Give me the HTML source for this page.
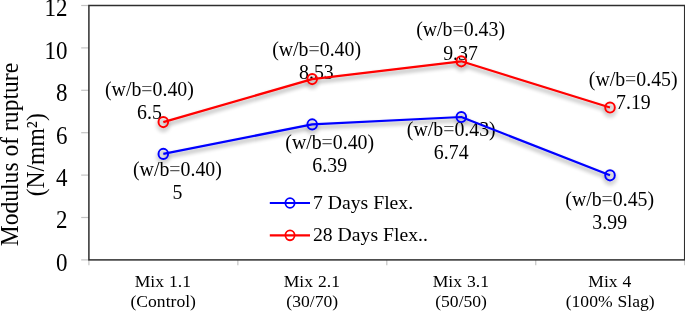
<!DOCTYPE html>
<html>
<head>
<meta charset="utf-8">
<title>Modulus of rupture</title>
<style>
html,body{margin:0;padding:0;background:#fff;}
body{width:685px;height:311px;overflow:hidden;}
svg{display:block;opacity:0.999;font-family:"Liberation Serif",serif;}
text{fill:#000;}
</style>
</head>
<body>
<svg width="685" height="311" viewBox="0 0 685 311">
<defs>
<filter id="sh" x="-10%" y="-20%" width="120%" height="150%">
<feGaussianBlur in="SourceAlpha" stdDeviation="2.2"/>
<feOffset dx="0.2" dy="3"/>
<feComponentTransfer><feFuncA type="linear" slope="0.42"/></feComponentTransfer>
<feMerge><feMergeNode/><feMergeNode in="SourceGraphic"/></feMerge>
</filter>
</defs>
<rect x="0" y="0" width="685" height="311" fill="#fff"/>
<g stroke="#c4c4c4" stroke-width="1.2">
<line x1="81.2" y1="259.90" x2="88.9" y2="259.90"/>
<line x1="81.2" y1="217.50" x2="88.9" y2="217.50"/>
<line x1="81.2" y1="175.10" x2="88.9" y2="175.10"/>
<line x1="81.2" y1="132.70" x2="88.9" y2="132.70"/>
<line x1="81.2" y1="90.30" x2="88.9" y2="90.30"/>
<line x1="81.2" y1="47.90" x2="88.9" y2="47.90"/>
<line x1="81.2" y1="5.50" x2="88.9" y2="5.50"/>
<line x1="88.90" y1="259.9" x2="88.90" y2="265.2"/>
<line x1="237.85" y1="259.9" x2="237.85" y2="265.2"/>
<line x1="386.80" y1="259.9" x2="386.80" y2="265.2"/>
<line x1="535.75" y1="259.9" x2="535.75" y2="265.2"/>
<line x1="684.70" y1="259.9" x2="684.70" y2="265.2"/>
</g>
<rect x="88.9" y="5.5" width="595.80" height="254.40" fill="none" stroke="#2e2e2e" stroke-width="1.5"/>
<g font-size="23" text-anchor="end">
<text transform="translate(67.6,270.70) scale(1,1.12)">0</text>
<text transform="translate(67.6,228.30) scale(1,1.12)">2</text>
<text transform="translate(67.6,185.90) scale(1,1.12)">4</text>
<text transform="translate(67.6,143.50) scale(1,1.12)">6</text>
<text transform="translate(67.6,101.10) scale(1,1.12)">8</text>
<text transform="translate(67.6,58.70) scale(1,1.12)">10</text>
<text transform="translate(67.6,16.30) scale(1,1.12)">12</text>
</g>
<g font-size="25.0" text-anchor="middle">
<text transform="translate(17.7,154.6) rotate(-90) scale(0.944,1)">Modulus of rupture</text>
<text transform="translate(44.0,154.8) rotate(-90) scale(0.944,1)">(N/mm²)</text>
</g>
<g font-size="19.85" text-anchor="middle">
<text transform="translate(149.4,95.6) scale(1,1.02)">(w/b<tspan fill="#5c5c5c">=</tspan>0.40)</text>
<text transform="translate(149.4,118.5) scale(1,1.02)">6.5</text>
<text transform="translate(177.4,175.8) scale(1,1.02)">(w/b<tspan fill="#5c5c5c">=</tspan>0.40)</text>
<text transform="translate(177.4,198.6) scale(1,1.02)">5</text>
<text transform="translate(316.6,56.0) scale(1,1.02)">(w/b<tspan fill="#5c5c5c">=</tspan>0.40)</text>
<text transform="translate(316.4,78.8) scale(1,1.02)">8.53</text>
<text transform="translate(329.7,149.4) scale(1,1.02)">(w/b<tspan fill="#5c5c5c">=</tspan>0.40)</text>
<text transform="translate(329.7,172.4) scale(1,1.02)">6.39</text>
<text transform="translate(460.6,36.3) scale(1,1.02)">(w/b<tspan fill="#5c5c5c">=</tspan>0.43)</text>
<text transform="translate(460.5,59.8) scale(1,1.02)">9.37</text>
<text transform="translate(451.3,135.7) scale(1,1.02)">(w/b<tspan fill="#5c5c5c">=</tspan>0.43)</text>
<text transform="translate(451.2,158.8) scale(1,1.02)">6.74</text>
<text transform="translate(633.2,86.0) scale(1,1.02)">(w/b<tspan fill="#5c5c5c">=</tspan>0.45)</text>
<text transform="translate(633.4,108.8) scale(1,1.02)">7.19</text>
<text transform="translate(609.7,206.1) scale(1,1.02)">(w/b<tspan fill="#5c5c5c">=</tspan>0.45)</text>
<text transform="translate(609.7,229.0) scale(1,1.02)">3.99</text>
</g>
<g filter="url(#sh)" fill="none" stroke-linejoin="round">
<polyline stroke="#0000ff" stroke-width="2.25" points="163.3,153.9 312.2,124.4 461.3,117.0 610.0,175.3"/>
<g stroke="#0000ff" stroke-width="1.95">
<ellipse cx="163.3" cy="153.9" rx="4.8" ry="5.1"/>
<ellipse cx="312.2" cy="124.4" rx="4.8" ry="5.1"/>
<ellipse cx="461.3" cy="117.0" rx="4.8" ry="5.1"/>
<ellipse cx="610.0" cy="175.3" rx="4.8" ry="5.1"/>
</g></g>
<g filter="url(#sh)" fill="none" stroke-linejoin="round">
<polyline stroke="#ff0000" stroke-width="2.25" points="163.3,122.1 312.2,79.1 461.3,61.3 610.0,107.5"/>
<g stroke="#ff0000" stroke-width="1.95">
<ellipse cx="163.3" cy="122.1" rx="4.8" ry="5.1"/>
<ellipse cx="312.2" cy="79.1" rx="4.8" ry="5.1"/>
<ellipse cx="461.3" cy="61.3" rx="4.8" ry="5.1"/>
<ellipse cx="610.0" cy="107.5" rx="4.8" ry="5.1"/>
</g></g>
<g fill="none" stroke-width="2.1">
<line x1="269.8" y1="203.0" x2="310" y2="203.0" stroke="#0000ff"/>
<ellipse cx="290.0" cy="203.0" rx="4.6" ry="4.9" stroke="#0000ff" stroke-width="1.8"/>
<line x1="269.8" y1="235.35" x2="310" y2="235.35" stroke="#ff0000"/>
<ellipse cx="290.0" cy="235.35" rx="4.6" ry="4.9" stroke="#ff0000" stroke-width="1.8"/>
</g>
<g font-size="19.7">
<text transform="translate(313.0,208.6) scale(1,0.98)">7 Days Flex.</text>
<text transform="translate(313.0,240.7) scale(1,0.98)">28 Days Flex..</text>
</g>
<g font-size="17.6" text-anchor="middle" word-spacing="0.6">
<text transform="translate(162.8,286.7) scale(1,0.955)">Mix 1.1</text>
<text transform="translate(163.2,306.9) scale(1,0.955)">(Control)</text>
<text transform="translate(311.8,286.7) scale(1,0.955)">Mix 2.1</text>
<text transform="translate(312.2,306.9) scale(1,0.955)">(30/70)</text>
<text transform="translate(460.8,286.7) scale(1,0.955)">Mix 3.1</text>
<text transform="translate(461.1,306.9) scale(1,0.955)">(50/50)</text>
<text transform="translate(609.8,286.7) scale(1,0.955)">Mix 4</text>
<text transform="translate(610.2,306.9) scale(1,0.955)">(100% Slag)</text>
</g>
</svg>
</body>
</html>
